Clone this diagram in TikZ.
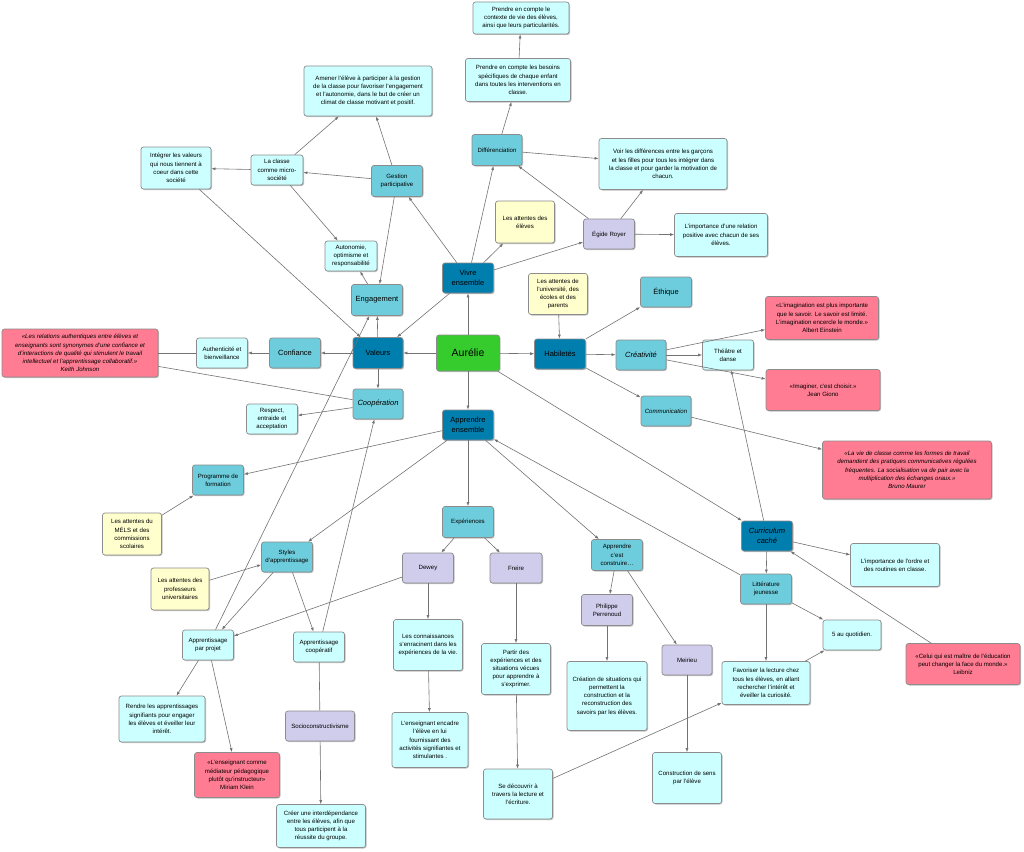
\documentclass[tikz,border=0pt]{standalone}
\usepackage{fontspec}
\setmainfont{Liberation Sans}
\usetikzlibrary{arrows.meta,shadows}
\definecolor{cLeaf}{RGB}{204,255,255}
\definecolor{cTopic}{RGB}{110,205,220}
\definecolor{cTheme}{RGB}{0,126,174}
\definecolor{cRacine}{RGB}{54,204,46}
\definecolor{cAuteur}{RGB}{208,204,236}
\definecolor{cAttente}{RGB}{255,255,206}
\definecolor{cCitation}{RGB}{255,124,146}
\begin{document}
\begin{tikzpicture}[x=1pt, y=-1pt,
  txtS/.style={font=\fontsize{6.1}{8.2}\selectfont},
  txtSi/.style={font=\fontsize{6.1}{8.2}\selectfont\itshape},
  txtM/.style={font=\fontsize{7.5}{10}\selectfont},
  txtMi/.style={font=\fontsize{7.5}{10}\selectfont\itshape},
  bx/.style={rectangle, rounded corners=2.5pt, draw=black!45, line width=0.7pt, align=center, inner sep=1pt,
    drop shadow={shadow xshift=1pt, shadow yshift=-1pt, fill=black, opacity=0.25}},
  leaf/.style={bx, fill=cLeaf, txtS},
  topic/.style={bx, fill=cTopic, txtS},
  theme/.style={bx, fill=cTheme, txtM},
  racine/.style={bx, fill=cRacine, font=\fontsize{10.5}{12}\selectfont},
  auteur/.style={bx, fill=cAuteur, txtS},
  attente/.style={bx, fill=cAttente, txtS},
  citation/.style={bx, fill=cCitation, txtS},
  sz/.style 2 args={minimum width=#1pt, minimum height=#2pt},
  lien/.style={draw=black!55, line width=0.6pt},
  conn/.style={lien, -{Latex[length=4pt,width=3pt]}}]
\fill[white] (0,0) rectangle (1024,851);
\useasboundingbox (0,0) rectangle (1024,851);
%%%%%%%%%%%%%%%%%%%%%%%%%%%%%%% Vivre ensemble
\node[leaf, sz={96}{32}](ctxVie) at (521,18){Prendre en compte le\\contexte de vie des élèves,\\ainsi que leurs particularités.};
\node[leaf, sz={105}{43}](besoins) at (518,80){Prendre en compte les besoins\\spécifiques de chaque enfant\\dans toutes les interventions en\\classe.};
\node[leaf, sz={128}{50}](amener) at (368,91){Amener l'élève à participer à la gestion\\de la classe pour favoriser l'engagement\\et l'autonomie, dans le but de créer un\\climat de classe motivant et positif.};
\node[topic, sz={50}{31}](diff) at (497,150){Différenciation};
\node[topic, sz={51}{31}](gestion) at (397,181){Gestion\\participative};
\node[leaf, sz={70}{42}](integrer) at (176,168){Intégrer les valeurs\\qui nous tiennent à\\coeur dans cette\\société};
\node[leaf, sz={52}{30}](micro) at (277,170){La classe\\comme micro-\\société};
\node[leaf, sz={52}{30}](autonomie) at (351,256){Autonomie,\\optimisme et\\responsabilité};
\node[topic, txtM, sz={51}{31}](engagement) at (377,300){Engagement};
\node[leaf, sz={128}{51}](voirDiff) at (663,164){Voir les différences entre les garçons\\et les filles pour tous les intégrer dans\\la classe et pour garder la motivation de\\chacun.};
\node[attente, sz={59}{42}](attEleves) at (525,222){Les attentes des\\élèves};
\node[auteur, sz={51}{30}](royer) at (609,234){Égide Royer};
\node[leaf, sz={93}{43}](relation) at (721,235){L'importance d'une relation\\positive avec chacun de ses\\élèves.};
\node[theme, sz={51}{30}](vivreEns) at (468,278){Vivre\\ensemble};
\draw[conn] (besoins) -- (ctxVie);
\draw[conn] (diff) -- (besoins);
\draw[conn] (diff) -- (voirDiff);
\draw[conn] (royer) -- (diff);
\draw[conn] (royer) -- (voirDiff);
\draw[conn] (royer) -- (relation);
\draw[conn] (vivreEns) -- (diff);
\draw[conn] (vivreEns) -- (attEleves);
\draw[conn] (vivreEns) -- (royer);
\draw[conn] (vivreEns) -- (gestion);
\draw[conn] (gestion) -- (amener);
\draw[conn] (gestion) -- (micro);
\draw[conn] (gestion) -- (engagement);
\draw[conn] (micro) -- (amener);
\draw[conn] (micro) -- (integrer);
\draw[conn] (micro) -- (autonomie);
\draw[conn] (engagement) -- (autonomie);
%%%%%%%%%%%%%%%%%%%%%%%%%%%%%%% Valeurs et habiletes
\node[attente, sz={59}{41}](attUniv) at (558,294){Les attentes de\\l'université, des\\écoles et des\\parents};
\node[topic, txtM, sz={51}{30}](ethique) at (666,292){Éthique};
\node[citation, sz={113}{43}](citEinstein) at (822,318){«L'imagination est plus importante\\que le savoir. Le savoir est limité.\\L'imagination encercle le monde.»\\Albert Einstein};
\node[topic, txtMi, sz={50}{30}](creativite) at (641,355){Créativité};
\node[leaf, sz={51}{30}](theatre) at (728,355){Théâtre et\\danse};
\node[citation, sz={114}{41}](citGiono) at (823,390){«Imaginer, c'est choisir.»\\Jean Giono};
\node[topic, txtSi, sz={50}{30}](communication) at (666,411){Communication};
\node[citation, txtSi, sz={156}{48}](citJohnson) at (80,353){«Les relations authentiques entre élèves et\\enseignants sont synonymes d'une confiance et\\d'interactions de qualité qui stimulent le travail\\intellectuel et l'apprentissage collaboratif.»\\Keith Johnson};
\node[leaf, sz={51}{30}](authent) at (222,353){Authenticité et\\bienveillance};
\node[topic, txtM, sz={51}{30}](confiance) at (295,353){Confiance};
\node[theme, sz={50}{31}](valeurs) at (378,353){Valeurs};
\node[racine, sz={63}{36}](aurelie) at (468,353){Aurélie};
\node[theme, sz={51}{30}](habiletes) at (560,354){Habiletés};
\node[topic, txtMi, sz={50}{30}](cooperation) at (378,404){Coopération};
\node[leaf, sz={51}{30}](respect) at (272,419){Respect,\\entraide et\\acceptation};
\node[citation, txtSi, sz={169}{58}](citMaurer) at (907,470){«La vie de classe comme les formes de travail\\demandent des pratiques communicatives régulées\\fréquentes. La socialisation va de pair avec la\\multiplication des échanges oraux.»\\Bruno Maurer};
\draw[conn] (aurelie) -- (vivreEns);
\draw[conn] (aurelie) -- (valeurs);
\draw[conn] (aurelie) -- (habiletes);
\draw[conn] (vivreEns) -- (valeurs);
\draw[conn] (integrer) -- (valeurs);
\draw[conn] (valeurs) -- (engagement);
\draw[conn] (valeurs) -- (confiance);
\draw[conn] (valeurs) -- (cooperation);
\draw[conn] (confiance) -- (authent);
\draw[lien] (citJohnson) -- (authent);
\draw[lien] (citJohnson) -- (cooperation);
\draw[conn] (cooperation) -- (respect);
\draw[conn] (attUniv) -- (habiletes);
\draw[conn] (habiletes) -- (ethique);
\draw[conn] (habiletes) -- (creativite);
\draw[conn] (habiletes) -- (communication);
\draw[conn] (creativite) -- (citEinstein);
\draw[conn] (creativite) -- (theatre);
\draw[conn] (creativite) -- (citGiono);
\draw[conn] (communication) -- (citMaurer);
%%%%%%%%%%%%%%%%%%%%%%%%%%%%%%% Apprendre ensemble
\node[theme, sz={51}{30}](appEns) at (468,425){Apprendre\\ensemble};
\node[topic, sz={51}{30}](programme) at (218,480){Programme de\\formation};
\node[attente, sz={59}{42}](attMels) at (132,534){Les attentes du\\MÉLS et des\\commissions\\scolaires};
\node[topic, sz={51}{31}](experiences) at (468,522){Expériences};
\node[topic, sz={51}{30}](styles) at (287,557){Styles\\d'apprentissage};
\node[attente, sz={58}{42}](attProfs) at (180,589){Les attentes des\\professeurs\\universitaires};
\node[auteur, sz={51}{30}](dewey) at (428,568){Dewey};
\node[auteur, sz={52}{30}](freire) at (516,568){Freire};
\node[topic, sz={51}{31}](construire) at (617,555){Apprendre\\c'est\\construire…};
\node[auteur, sz={51}{31}](perrenoud) at (607,610){Philippe\\Perrenoud};
\node[auteur, sz={50}{30}](meirieu) at (687,660){Meirieu};
\node[leaf, sz={69}{51}](connaiss) at (428,645){Les connaissances\\s'enracinent dans les\\expériences de la vie.};
\node[leaf, sz={69}{51}](partir) at (516,669){Partir des\\expériences et des\\situations vécues\\pour apprendre à\\s'exprimer.};
\node[leaf, sz={80}{69}](creation) at (607,696){Création de situations qui\\permettent la\\construction et la\\reconstruction des\\savoirs par les élèves.};
\node[leaf, sz={51}{30}](projet) at (208,645){Apprentissage\\par projet};
\node[leaf, sz={51}{30}](coopApp) at (319,647){Apprentissage\\coopératif};
\node[leaf, sz={86}{46}](rendre) at (162,719){Rendre les apprentissages\\signifiants pour engager\\les élèves et éveiller leur\\intérêt.};
\node[auteur, sz={69}{30}](socio) at (320,726){Socioconstructivisme};
\node[citation, sz={85}{45}](citKlein) at (237,775){«L'enseignant comme\\médiateur pédagogique\\plutôt qu'instructeur»\\Miriam Klein};
\node[leaf, sz={89}{43}](creer) at (321,826){Créer une interdépendance\\entre les élèves, afin que\\tous participent à la\\réussite du groupe.};
\node[leaf, sz={76}{55}](encadre) at (430,740){L'enseignant encadre\\l'élève en lui\\fournissant des\\activités signifiantes et\\stimulantes .};
\node[leaf, sz={69}{50}](decouvrir) at (518,794){Se découvrir à\\travers la lecture et\\l'écriture.};
\node[leaf, sz={69}{51}](sens) at (687,778){Construction de sens\\par l'élève};
\draw[conn] (aurelie) -- (appEns);
\draw[conn] (appEns) -- (programme);
\draw[conn] (attMels) -- (programme);
\draw[conn] (appEns) -- (styles);
\draw[conn] (appEns) -- (experiences);
\draw[conn] (appEns) -- (construire);
\draw[conn] (attProfs) -- (styles);
\draw[conn] (styles) -- (projet);
\draw[conn] (styles) -- (coopApp);
\draw[conn] (experiences) -- (dewey);
\draw[conn] (experiences) -- (freire);
\draw[conn] (dewey) -- (projet);
\draw[conn] (dewey) -- (connaiss);
\draw[conn] (connaiss) -- (encadre);
\draw[conn] (freire) -- (partir);
\draw[conn] (partir) -- (decouvrir);
\draw[conn] (construire) -- (perrenoud);
\draw[conn] (construire) -- (meirieu);
\draw[conn] (perrenoud) -- (creation);
\draw[conn] (meirieu) -- (sens);
\draw[conn] (projet) -- (engagement);
\draw[conn] (projet) -- (rendre);
\draw[conn] (projet) -- (citKlein);
\draw[conn] (coopApp) -- (cooperation);
\draw[lien] (coopApp) -- (socio);
\draw[conn] (socio) -- (creer);
%%%%%%%%%%%%%%%%%%%%%%%%%%%%%%% Curriculum cache
\node[theme, txtMi, sz={51}{30}](curriculum) at (767,536){Curriculum\\caché};
\node[leaf, sz={89}{43}](ordre) at (895,565){L'importance de l'ordre et\\des routines en classe.};
\node[topic, sz={51}{30}](litterature) at (766,589){Littérature\\jeunesse};
\node[leaf, sz={58}{30}](quotidien) at (852,635){5 au quotidien.};
\node[citation, sz={114}{41}](citLeibniz) at (963,664){«Celui qui est maître de l'éducation\\peut changer la face du monde.»\\Leibniz};
\node[leaf, sz={88}{43}](favoriser) at (766,683){Favoriser la lecture chez\\tous les élèves, en allant\\rechercher l'intérêt et\\éveiller la curiosité.};
\draw[conn] (aurelie) -- (curriculum);
\draw[conn] (curriculum) -- (theatre);
\draw[conn] (curriculum) -- (ordre);
\draw[conn] (curriculum) -- (litterature);
\draw[conn] (citLeibniz) -- (curriculum);
\draw[conn] (litterature) -- (appEns);
\draw[conn] (litterature) -- (quotidien);
\draw[conn] (litterature) -- (favoriser);
\draw[conn] (favoriser) -- (quotidien);
\draw[conn] (decouvrir) -- (favoriser);
\end{tikzpicture}
\end{document}
